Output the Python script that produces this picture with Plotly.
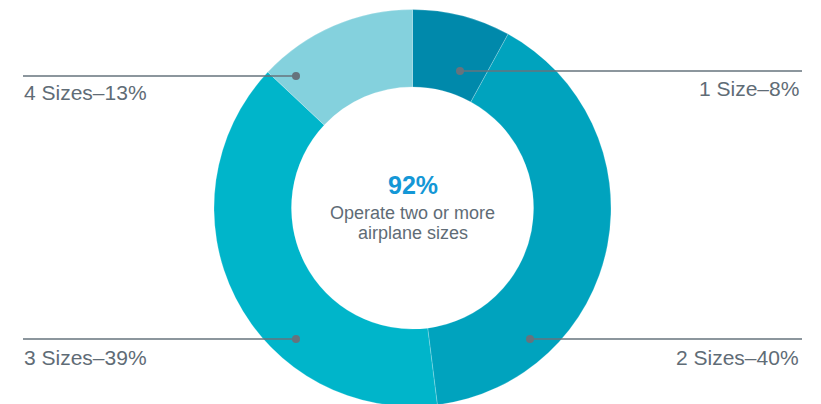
import plotly.graph_objects as go

# ---- data ----
categories = ["1 Size", "2 Sizes", "3 Sizes", "4 Sizes"]
shares = [8, 40, 39, 13]
slice_colors = ["#0089ab", "#00a3be", "#00b5ca", "#84d1dd"]
center_value = "92%"
center_caption = ["Operate two or more", "airplane sizes"]

W, H = 821, 404
OFF = 8  # page body margin offset

def px(x):
    return (x - OFF) / W

def py(y):
    return 1 - (y - OFF) / H

# callout geometry (page pixel positions): dot x, line y, line end x, label y, side
callouts = {
    "1 Size": dict(dot=460, ly=71, end=802, ty=89, side="right"),
    "2 Sizes": dict(dot=530, ly=339, end=802, ty=357, side="right"),
    "3 Sizes": dict(dot=296, ly=339, end=23, ty=357, side="left"),
    "4 Sizes": dict(dot=296, ly=76, end=23, ty=93, side="left"),
}

cx, cy, R = 412.5, 208, 198.5

fig = go.Figure()
fig.add_trace(go.Pie(
    labels=categories,
    values=shares,
    marker=dict(colors=slice_colors, line=dict(color="rgba(255,255,255,0.35)", width=0.6)),
    hole=0.61,
    sort=False,
    direction="clockwise",
    rotation=0,
    textinfo="none",
    hoverinfo="label+percent",
    showlegend=False,
    domain=dict(x=[px(cx - R), px(cx + R)], y=[py(cy + R), py(cy - R)]),
))

line_color = "#66737d"
text_color = "#5f6c76"
font_family = "Liberation Sans, Arial, sans-serif"

shapes = []
annotations = []
for cat, val in zip(categories, shares):
    c = callouts[cat]
    shapes.append(dict(type="line", xref="paper", yref="paper",
                       x0=px(c["dot"]), x1=px(c["end"]), y0=py(c["ly"]), y1=py(c["ly"]),
                       line=dict(color=line_color, width=1.6)))
    r = 4
    shapes.append(dict(type="circle", xref="paper", yref="paper",
                       x0=px(c["dot"] - r), x1=px(c["dot"] + r),
                       y0=py(c["ly"] + r), y1=py(c["ly"] - r),
                       fillcolor=line_color, line=dict(width=0)))
    right = c["side"] == "right"
    annotations.append(dict(x=px(801 if right else 22), y=py(c["ty"]), xref="paper", yref="paper",
                            text=f"{cat}\u2013{val}%", showarrow=False,
                            xanchor="right" if right else "left", yanchor="middle",
                            font=dict(family=font_family, size=21, color=text_color)))

annotations.append(dict(x=px(cx), y=py(185), xref="paper", yref="paper",
                        text=f"<b>{center_value}</b>", showarrow=False,
                        xanchor="center", yanchor="middle",
                        font=dict(family=font_family, size=25, color="#1497d6")))
for i, line in enumerate(center_caption):
    annotations.append(dict(x=px(cx), y=py(213 + 20 * i), xref="paper", yref="paper",
                            text=line, showarrow=False,
                            xanchor="center", yanchor="middle",
                            font=dict(family=font_family, size=18, color=text_color)))

fig.update_layout(
    width=W, height=H,
    margin=dict(l=0, r=0, t=0, b=0),
    paper_bgcolor="white",
    plot_bgcolor="white",
    shapes=shapes,
    annotations=annotations,
)

fig.write_html("out.html")
